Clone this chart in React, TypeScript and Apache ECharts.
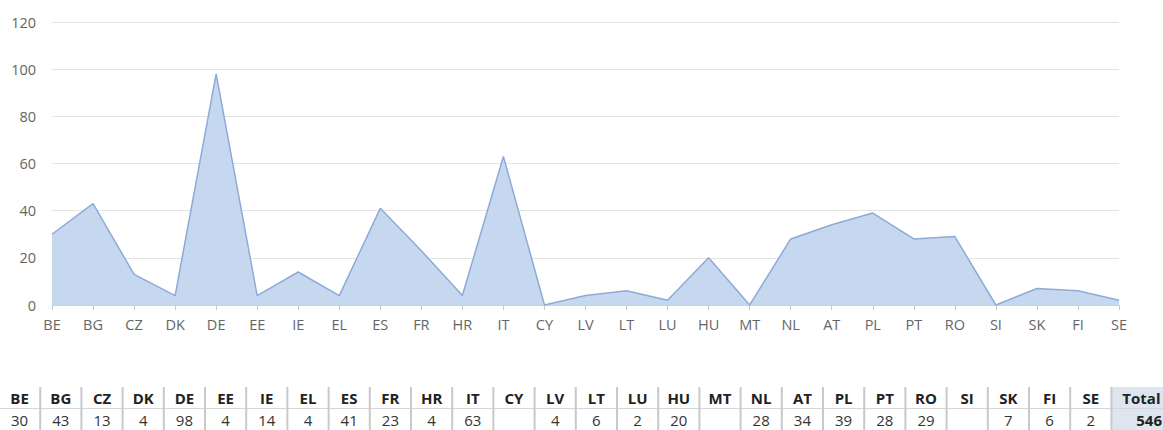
import React, { useEffect, useRef } from "react";
import * as echarts from "echarts";

const categories = ["BE","BG","CZ","DK","DE","EE","IE","EL","ES","FR","HR","IT","CY","LV","LT","LU","HU","MT","NL","AT","PL","PT","RO","SI","SK","FI","SE"];
const values: (number | null)[] = [30,43,13,4,98,4,14,4,41,23,4,63,null,4,6,2,20,null,28,34,39,28,29,null,7,6,2];
const yTicks = { min: 0, max: 120, interval: 20 };
const totalLabel = "Total";

export default function App() {
  const ref = useRef<HTMLDivElement>(null);
  useEffect(() => {
    document.body.style.margin = "0";
    const chart = echarts.init(ref.current!, null, { renderer: "svg" });
    const font = "'Open Sans', 'Noto Sans', sans-serif";
    const colW = 41.2;
    const x0 = -1;
    const tableTop = 387;
    const headerY = 398;
    const valueY = 420;
    const sepY = 408.5;
    const total = values.reduce((a: number, v) => a + (v ?? 0), 0);
    const totalLeft = x0 + colW * categories.length;

    const graphics: any[] = [];
    graphics.push({
      type: "rect",
      shape: { x: totalLeft, y: tableTop, width: 1163 - totalLeft, height: 430 - tableTop },
      style: { fill: "#dde6f0" },
      silent: true,
    });
    graphics.push({
      type: "line",
      shape: { x1: 0, y1: sepY, x2: 1163, y2: sepY },
      style: { stroke: "#d6d6d6", lineWidth: 1 },
      silent: true,
    });
    for (let k = 1; k <= categories.length; k++) {
      graphics.push({
        type: "rect",
        shape: { x: x0 + colW * k - 1, y: tableTop, width: 2, height: 430 - tableTop },
        style: { fill: "#c9c9c9" },
        silent: true,
      });
    }
    categories.forEach((c, k) => {
      const cx = x0 + colW * k + colW / 2;
      graphics.push({
        type: "text",
        x: cx,
        y: headerY,
        style: { text: c, fill: "#222", font: `bold 15px ${font}`, align: "center", verticalAlign: "middle" },
        silent: true,
      });
      const v = values[k];
      if (v !== null) {
        graphics.push({
          type: "text",
          x: cx,
          y: valueY,
          style: { text: String(v), fill: "#333", font: `15px ${font}`, align: "center", verticalAlign: "middle" },
          silent: true,
        });
      }
    });
    graphics.push({
      type: "text",
      x: totalLeft + 30,
      y: headerY,
      style: { text: totalLabel, fill: "#222", font: `bold 15px ${font}`, align: "center", verticalAlign: "middle" },
      silent: true,
    });
    graphics.push({
      type: "text",
      x: 1162,
      y: valueY,
      style: { text: String(total), fill: "#222", font: `bold 15px ${font}`, align: "right", verticalAlign: "middle" },
      silent: true,
    });

    chart.setOption({
      animation: false,
      grid: { left: 52, right: 44, top: 22, bottom: 125 },
      xAxis: {
        type: "category",
        data: categories,
        boundaryGap: false,
        axisLine: { lineStyle: { color: "#d0d0d0" } },
        axisTick: { show: true, length: 5, lineStyle: { color: "#c8c8c8" } },
        axisLabel: { color: "#666", fontSize: 14.5, fontFamily: font, margin: 12, interval: 0 },
        splitLine: { show: false },
      },
      yAxis: {
        type: "value",
        min: yTicks.min,
        max: yTicks.max,
        interval: yTicks.interval,
        axisLine: { show: false },
        axisTick: { show: false },
        axisLabel: { color: "#666", fontSize: 14.5, fontFamily: font, margin: 16 },
        splitLine: { lineStyle: { color: "#e4e4e4", width: 1 } },
      },
      series: [
        {
          type: "line",
          data: values.map((v) => v ?? 0),
          symbol: "none",
          lineStyle: { color: "#8eaad6", width: 1.5 },
          areaStyle: { color: "#c6d8f0", opacity: 1 },
          itemStyle: { color: "#8eaad6" },
        },
      ],
      graphic: graphics,
    });
    return () => chart.dispose();
  }, []);
  return <div ref={ref} style={{ width: 1163, height: 430 }} />;
}
